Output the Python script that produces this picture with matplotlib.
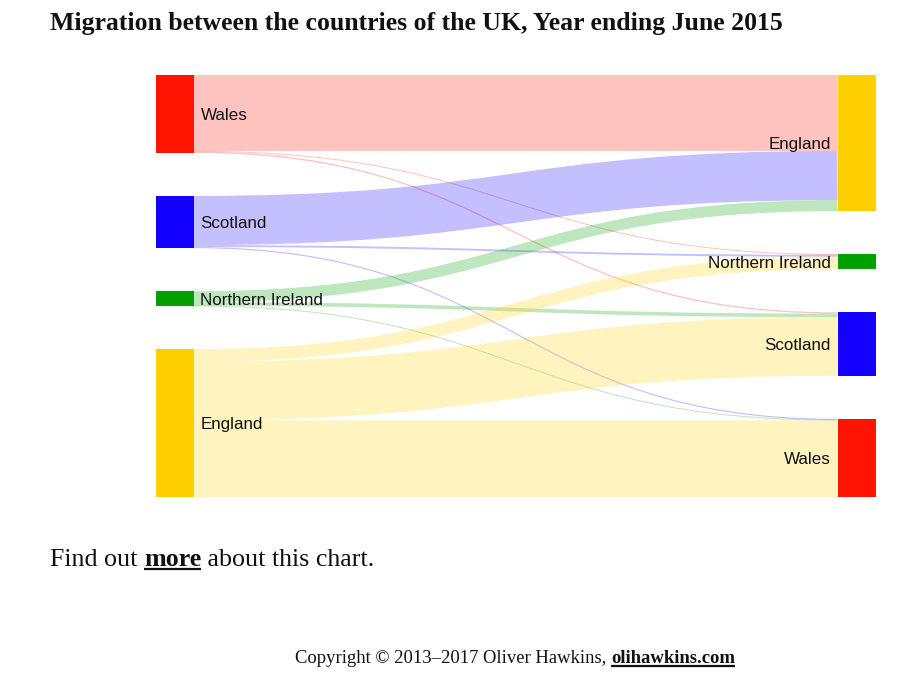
import matplotlib
matplotlib.use("Agg")
import matplotlib.pyplot as plt
from matplotlib.path import Path
from matplotlib.patches import PathPatch, Rectangle

# ---------------- data (thousands of people) ----------------
left_nodes = ["Wales", "Scotland", "Northern Ireland", "England"]
right_nodes = ["England", "Northern Ireland", "Scotland", "Wales"]
node_colors = {"Wales": "#ff1400", "Scotland": "#1400ff",
               "Northern Ireland": "#00a000", "England": "#ffd000"}

link_sources = ["Wales", "Wales", "Wales",
                "Scotland", "Scotland", "Scotland",
                "Northern Ireland", "Northern Ireland", "Northern Ireland",
                "England", "England", "England"]
link_targets = ["England", "Northern Ireland", "Scotland",
                "England", "Northern Ireland", "Wales",
                "England", "Scotland", "Wales",
                "Northern Ireland", "Scotland", "Wales"]
link_values = [52.5, 0.5, 0.9,
               34.0, 1.3, 0.8,
               7.6, 2.5, 0.3,
               8.7, 40.5, 53.3]

title = "Migration between the countries of the UK, Year ending June 2015"

# ---------------- figure ----------------
W, H, DPI = 900, 676, 100
fig = plt.figure(figsize=(W / DPI, H / DPI), dpi=DPI)
ax = fig.add_axes([0, 0, 1, 1])
ax.set_xlim(0, W)
ax.set_ylim(H, 0)
ax.axis("off")
renderer = fig.canvas.get_renderer()

# layout (pixel space)
top, bottom, pad = 75.0, 497.5, 43.0
xl0, xl1 = 155.5, 193.5
xr0, xr1 = 837.5, 875.5

out_tot = {n: 0.0 for n in left_nodes}
in_tot = {n: 0.0 for n in right_nodes}
for s, t, v in zip(link_sources, link_targets, link_values):
    out_tot[s] += v
    in_tot[t] += v
total = max(sum(out_tot.values()), sum(in_tot.values()))
ky = (bottom - top - 3 * pad) / total

ly, ry = {}, {}
y = top
for n in left_nodes:
    ly[n] = y
    y += out_tot[n] * ky + pad
y = top
for n in right_nodes:
    ry[n] = y
    y += in_tot[n] * ky + pad

# link offsets: source side sorted by target order, target side by source order
links = list(zip(link_sources, link_targets, link_values))
sy_off, ty_off = {}, {}
for n in left_nodes:
    off = 0.0
    for (s, t, v) in sorted([l for l in links if l[0] == n], key=lambda l: right_nodes.index(l[1])):
        sy_off[(s, t)] = off
        off += v * ky
for n in right_nodes:
    off = 0.0
    for (s, t, v) in sorted([l for l in links if l[1] == n], key=lambda l: left_nodes.index(l[0])):
        ty_off[(s, t)] = off
        off += v * ky

xm = (xl1 + xr0) / 2
for (s, t, v) in links:
    dy = max(1.0, v * ky)
    y0 = ly[s] + sy_off[(s, t)] + v * ky / 2
    y1 = ry[t] + ty_off[(s, t)] + v * ky / 2
    path = Path([(xl1, y0), (xm, y0), (xm, y1), (xr0, y1)],
                [Path.MOVETO, Path.CURVE4, Path.CURVE4, Path.CURVE4])
    ax.add_patch(PathPatch(path, fill=False, edgecolor=node_colors[s], alpha=0.25,
                           linewidth=dy * 72 / DPI, capstyle="butt"))

# nodes
lab_px = 17.0
lab_fs = lab_px * 0.72
for n in left_nodes:
    h = out_tot[n] * ky
    ax.add_patch(Rectangle((xl0, ly[n]), xl1 - xl0, h, facecolor=node_colors[n], edgecolor="none"))
    ax.text(xl1 + 7, ly[n] + h / 2 + 0.35 * lab_px, n, fontsize=lab_fs, family="Liberation Sans",
            ha="left", va="baseline", color="#111111")
for n in right_nodes:
    h = in_tot[n] * ky
    ax.add_patch(Rectangle((xr0, ry[n]), xr1 - xr0, h, facecolor=node_colors[n], edgecolor="none"))
    ax.text(xr0 - 7, ry[n] + h / 2 + 0.35 * lab_px, n, fontsize=lab_fs, family="Liberation Sans",
            ha="right", va="baseline", color="#111111")


def fit_text(x, y, s, width, **kw):
    t = ax.text(x, y, s, fontsize=20, **kw)
    w = t.get_window_extent(renderer).width
    t.set_fontsize(20 * width / w)
    return t


fit_text(50, 30, title, 733, family="Liberation Serif", weight="bold",
         ha="left", va="baseline", color="#111111")


def width_of(s, **kw):
    t = ax.text(0, 0, s + "|", **kw)
    w = t.get_window_extent(renderer).width
    t.remove()
    t2 = ax.text(0, 0, "|", **kw)
    w2 = t2.get_window_extent(renderer).width
    t2.remove()
    return w - w2


def mixed_line(x, y, parts, fs):
    for s, bold, under in parts:
        kw = dict(fontsize=fs, family="Liberation Serif", weight="bold" if bold else "normal")
        ax.text(x, y, s, ha="left", va="baseline", color="#111111", **kw)
        w = width_of(s, **kw)
        if under:
            wt = width_of(s.rstrip(), **kw)
            ax.plot([x, x + wt], [y + 3, y + 3], color="#111111", lw=1.6, solid_capstyle="butt")
        x += w
    return x


mixed_line(50, 566, [("Find out ", False, False), ("more", True, True),
                     (" about this chart.", False, False)], 18.7)
mixed_line(295, 663, [("Copyright \u00a9 2013\u20132017 Oliver Hawkins, ", False, False),
                      ("olihawkins.com", True, True)], 13.4)

fig.savefig("out.png", dpi=DPI, facecolor="white")
